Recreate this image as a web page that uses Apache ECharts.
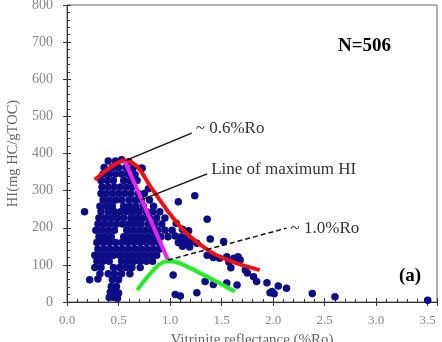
<!DOCTYPE html>
<html>
<head>
<meta charset="utf-8">
<script src="https://cdn.jsdelivr.net/npm/echarts@6/dist/echarts.min.js"></script>
<style>
  html, body { margin: 0; padding: 0; background: #fff; }
  #main { width: 442px; height: 342px; }
</style>
</head>
<body>
<div id="main"></div>
<script>
// tick labels
const xTicks = [0, 0.5, 1.0, 1.5, 2.0, 2.5, 3.0, 3.5]
const yTicks = [0, 100, 200, 300, 400, 500, 600, 700, 800]

// HI vs Ro samples (dense core + scattered tail)
const samples = [
  // core
  [0.40,380],[0.47,380],[0.53,383],[0.60,378],
  [0.36,362],[0.44,362],[0.50,362],[0.57,362],[0.64,360],[0.73,360],
  [0.35,345],[0.41,345],[0.47,345],[0.53,345],[0.59,345],[0.66,343],
  [0.33,327],[0.39,327],[0.45,327],[0.55,327],[0.61,327],[0.68,327],
  [0.34,310],[0.40,310],[0.46,310],[0.52,310],[0.58,310],[0.64,310],[0.79,305],
  [0.33,292],[0.38,292],[0.44,292],[0.50,292],[0.56,292],[0.62,292],[0.69,292],[0.75,292],
  [0.35,275],[0.41,275],[0.47,275],[0.53,275],[0.60,275],[0.66,275],[0.72,275],[0.80,275],[1.08,270],
  [0.32,258],[0.38,258],[0.44,258],[0.55,258],[0.61,258],[0.67,258],[0.74,258],[0.84,258],
  [0.17,243],[0.33,243],[0.40,243],[0.46,243],[0.52,243],[0.58,243],[0.64,243],[0.70,243],[0.77,243],[0.83,243],[0.90,243],
  [0.31,226],[0.37,226],[0.43,226],[0.49,226],[0.55,226],[0.62,226],[0.68,226],[0.74,226],[0.80,226],[0.87,226],[0.95,226],
  [0.30,210],[0.36,210],[0.42,210],[0.48,210],[0.54,210],[0.60,210],[0.66,210],[0.72,210],[0.79,210],[0.85,210],[0.92,210],[1.06,212],
  [0.28,193],[0.34,193],[0.40,193],[0.46,193],[0.58,193],[0.64,193],[0.70,193],[0.76,193],[0.82,193],[0.88,193],[0.95,193],[1.02,193],[1.12,196],[1.18,192],
  [0.31,176],[0.37,176],[0.43,176],[0.55,176],[0.61,176],[0.67,176],[0.73,176],[0.79,176],[0.85,176],[0.91,176],[0.98,176],[1.05,178],[1.11,176],[1.17,176],
  [0.29,160],[0.35,160],[0.41,160],[0.47,160],[0.53,160],[0.59,160],[0.65,160],[0.71,160],[0.77,160],[0.83,160],[0.89,160],[1.08,160],[1.14,160],[1.20,162],[1.26,158],
  [0.30,143],[0.36,143],[0.42,143],[0.48,143],[0.54,143],[0.60,143],[0.66,143],[0.72,143],[0.78,143],[0.84,143],[0.90,143],[1.12,150],[1.19,148],
  [0.27,126],[0.33,126],[0.39,126],[0.45,126],[0.51,126],[0.57,126],[0.63,126],[0.69,126],[0.75,126],[0.81,126],[0.87,126],
  [0.29,110],[0.35,110],[0.41,110],[0.53,110],[0.59,110],[0.65,110],[0.71,110],[0.77,110],[0.83,110],
  [0.27,93],[0.33,93],[0.45,93],[0.51,93],[0.57,93],[0.63,93],[0.71,93],
  [0.32,76],[0.40,76],[0.46,76],[0.53,76],[0.61,76],
  [0.22,60],[0.30,62],[0.44,60],[0.50,60],
  [0.43,42],[0.48,42],
  [0.42,26],[0.47,26],[0.50,24],
  [0.41,12],[0.46,12],[0.49,10],
  // right tail
  [0.72,360],[1.24,286],[1.36,223],[1.39,170],[1.52,163],
  [1.36,126],[1.42,120],[1.48,118],[1.55,122],[1.62,118],[1.68,113],[1.66,122],
  [1.57,108],[1.59,92],[1.73,86],[1.75,78],[1.81,68],[1.84,55],[1.94,52],
  [2.05,43],[2.13,37],[1.99,28],[2.01,22],[1.97,25],[2.38,23],[2.60,14],[3.50,5],
  [1.03,73],[1.34,55],[1.42,47],[1.55,51],[1.65,46],[1.05,20],[1.10,16],[1.26,25]
]

// trend lines
const maxCurve = [[0.27,329],[0.41,360],[0.56,381],[0.68,365],[0.81,311],[0.97,248],[1.16,185],[1.42,131],[1.65,104],[1.87,86]]
const maxHiLine = [[0.56,380],[0.98,113]]
const lowCurve = [[0.68,32],[0.87,95],[0.98,110],[1.10,104],[1.63,28]]
const lead06 = [[0.56,380],[1.21,455]]
const leadMax = [[0.72,275],[1.36,345]]
const lead10 = [[0.98,113],[2.13,199]]

const chart = echarts.init(document.getElementById('main'))

const serif = 'Liberation Serif'

// second pair of axes just draws the outer half of the major ticks
const baseX = { type: 'value', min: 0, max: 3.59, interval: 0.5, splitLine: { show: false } }
const baseY = { type: 'value', min: 0, max: 800, interval: 100, splitLine: { show: false } }

// thin black leader line with its text at the far end
function leader(pts, text, dy, dashed) {
  return {
    type: 'line', data: pts, symbol: 'none',
    lineStyle: { color: '#111', width: 1.5, type: dashed ? [5, 3] : 'solid' },
    endLabel: {
      show: true, distance: 4, offset: [0, dy], formatter: text,
      color: '#333', fontFamily: serif, fontSize: 17
    }
  }
}

const option = {
  animation: false,
  grid: {
    left: 67, right: 5, top: 5, bottom: 40,
    outerBoundsMode: 'none',
    show: true, borderColor: '#666', borderWidth: 1
  },
  xAxis: [
    Object.assign({}, baseX, {
      name: 'Vitrinite reflectance (%Ro)',
      nameLocation: 'middle', nameGap: 31,
      nameTextStyle: { color: '#666', fontFamily: serif, fontSize: 15 },
      axisLine: { lineStyle: { color: '#333' } },
      axisTick: { inside: true, length: 4, lineStyle: { color: '#333' } },
      minorTick: { show: true, splitNumber: 5, length: 3, lineStyle: { color: '#333' } },
      axisLabel: {
        margin: 12, showMaxLabel: false, formatter: v => v.toFixed(1),
        color: '#888', fontFamily: serif, fontSize: 13
      }
    }),
    Object.assign({}, baseX, {
      position: 'bottom',
      axisLine: { show: false },
      axisTick: { inside: false, length: 4, lineStyle: { color: '#333' } },
      axisLabel: { show: false }
    })
  ],
  yAxis: [
    Object.assign({}, baseY, {
      name: 'HI(mg HC/gTOC)',
      nameLocation: 'middle', nameGap: 45,
      nameTextStyle: { color: '#666', fontFamily: serif, fontSize: 14.5 },
      axisLine: { lineStyle: { color: '#333' } },
      axisTick: { inside: true, length: 4, lineStyle: { color: '#333' } },
      minorTick: { show: true, splitNumber: 5, length: 3, lineStyle: { color: '#333' } },
      axisLabel: { margin: 14, color: '#888', fontFamily: serif, fontSize: 14 }
    }),
    Object.assign({}, baseY, {
      position: 'left',
      axisLine: { show: false },
      axisTick: { inside: false, length: 4, lineStyle: { color: '#333' } },
      axisLabel: { show: false }
    })
  ],
  series: [
    {
      type: 'scatter', data: samples, symbolSize: 7.5,
      itemStyle: { color: '#0c0c86', opacity: 1 }
    },
    {
      type: 'line', data: maxCurve, smooth: 0.35, symbol: 'none',
      lineStyle: { color: '#f01010', width: 4 }
    },
    {
      type: 'line', data: maxHiLine, symbol: 'none',
      lineStyle: { color: '#ee22ee', width: 4 }
    },
    {
      type: 'line', data: lowCurve, smooth: 0.3, symbol: 'none',
      lineStyle: { color: '#22ee22', width: 4 }
    },
    leader(lead06, '~ 0.6%Ro', -5, false),
    leader(leadMax, 'Line of maximum HI', -4, false),
    leader(lead10, '~ 1.0%Ro', 0, true)
  ],
  graphic: [
    { type: 'text', left: 338, top: 37, style: { text: 'N=506', fill: '#000', font: 'bold 19px "Liberation Serif"' } },
    { type: 'text', left: 399, top: 267, style: { text: '(a)', fill: '#000', font: 'bold 19px "Liberation Serif"' } }
  ]
}
chart.setOption(option)
</script>
</body>
</html>
